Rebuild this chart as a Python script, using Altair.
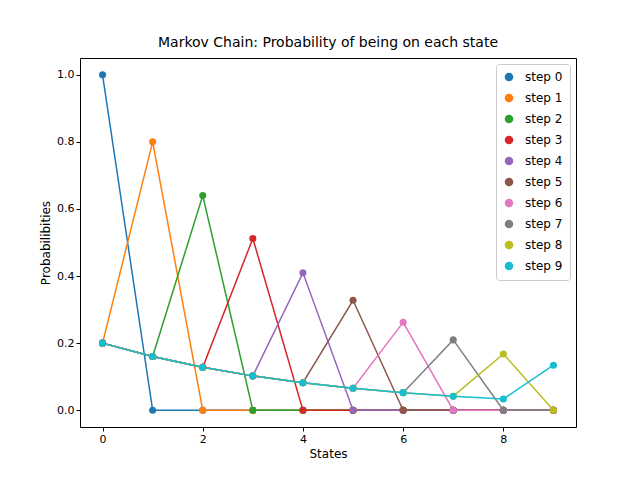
import pandas as pd
import altair as alt

states = list(range(10))
steps = [f"step {i}" for i in range(10)]

p0 = [1.0, 0, 0, 0, 0, 0, 0, 0, 0, 0]
p1 = [0.2, 0.8, 0, 0, 0, 0, 0, 0, 0, 0]
p2 = [0.2, 0.16, 0.64, 0, 0, 0, 0, 0, 0, 0]
p3 = [0.2, 0.16, 0.128, 0.512, 0, 0, 0, 0, 0, 0]
p4 = [0.2, 0.16, 0.128, 0.1024, 0.4096, 0, 0, 0, 0, 0]
p5 = [0.2, 0.16, 0.128, 0.1024, 0.0819, 0.3277, 0, 0, 0, 0]
p6 = [0.2, 0.16, 0.128, 0.1024, 0.0819, 0.0655, 0.2621, 0, 0, 0]
p7 = [0.2, 0.16, 0.128, 0.1024, 0.0819, 0.0655, 0.0524, 0.2097, 0, 0]
p8 = [0.2, 0.16, 0.128, 0.1024, 0.0819, 0.0655, 0.0524, 0.0419, 0.1678, 0]
p9 = [0.2, 0.16, 0.128, 0.1024, 0.0819, 0.0655, 0.0524, 0.0419, 0.0336, 0.1342]
probs = [p0, p1, p2, p3, p4, p5, p6, p7, p8, p9]

colors = ["#1f77b4", "#ff7f0e", "#2ca02c", "#d62728", "#9467bd",
          "#8c564b", "#e377c2", "#7f7f7f", "#bcbd22", "#17becf"]

rows = []
for i, (name, p) in enumerate(zip(steps, probs)):
    for s, v in zip(states, p):
        rows.append({"state": s, "prob": v, "step": name, "order": i})
df = pd.DataFrame(rows)

chart = (
    alt.Chart(df)
    .mark_line(point=alt.OverlayMarkDef(filled=True, size=50, opacity=1), strokeWidth=1.5)
    .encode(
        alt.X("state:Q", title="States",
              scale=alt.Scale(domain=[-0.45, 9.45], nice=False, zero=False),
              axis=alt.Axis(values=[0, 2, 4, 6, 8], grid=False, format="d")),
        alt.Y("prob:Q", title="Probabilibities",
              scale=alt.Scale(domain=[-0.05, 1.05], nice=False, zero=False),
              axis=alt.Axis(values=[0, 0.2, 0.4, 0.6, 0.8, 1.0], grid=False, format=".1f")),
        alt.Color("step:N", scale=alt.Scale(domain=steps, range=colors),
                  legend=alt.Legend(title=None, orient="top-right", offset=6,
                                    symbolType="circle", symbolSize=50,
                                    strokeColor="#cccccc", fillColor="white",
                                    padding=7, cornerRadius=3, labelFontSize=12,
                                    rowPadding=7, labelOffset=10)),
        alt.Order("order:Q"),
    )
    .properties(
        width=496, height=369,
        title=alt.TitleParams("Markov Chain: Probability of being on each state",
                              fontSize=14, fontWeight="normal", offset=8),
        autosize=alt.AutoSizeParams(type="none"),
        padding={"left": 72, "top": 50, "right": 56, "bottom": 45},
    )
    .configure(font="DejaVu Sans")
    .configure_view(stroke="black", strokeWidth=1)
    .configure_axis(domain=False, tickColor="black", labelColor="black",
                    titleColor="black", labelFontSize=11, titleFontSize=12,
                    titleFontWeight="normal", tickSize=4)
)

chart.save("out.html", embed_options={"renderer": "svg", "actions": False})
